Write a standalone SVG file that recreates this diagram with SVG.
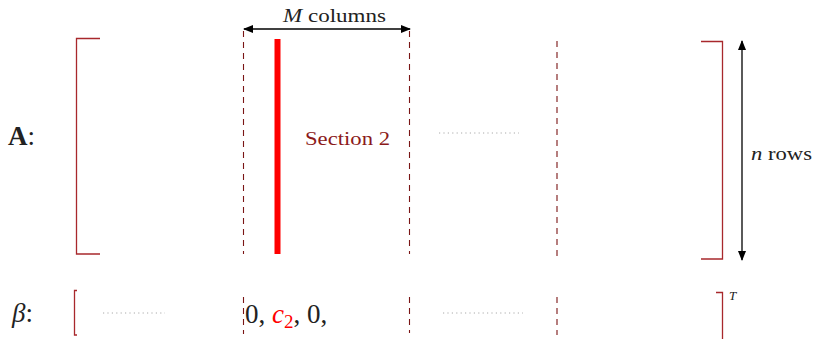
<svg xmlns="http://www.w3.org/2000/svg" width="814" height="339" viewBox="0 0 814 339">
<defs>
<marker id="ah" viewBox="0 0 10 10" refX="9" refY="5" markerWidth="10" markerHeight="10" markerUnits="userSpaceOnUse" orient="auto-start-reverse">
<path d="M0,1 L10,5 L0,9 Z" fill="#000"/>
</marker>
<style>
.br{fill:none;stroke:#a8282c;stroke-width:1.3}
.dash{fill:none;stroke:#7a1515;stroke-width:1.1;stroke-dasharray:6,5}
.dot{fill:none;stroke:#aaa;stroke-width:1;stroke-dasharray:1.2,3.2}
.arr{fill:none;stroke:#000;stroke-width:1.3}
.t{font-family:"Liberation Serif","DejaVu Serif",serif;fill:#222}
</style>
</defs>
<rect width="814" height="339" fill="#fff"/>
<g id="labels">
<text class="t" x="8" y="145" font-size="27" font-weight="bold">A<tspan font-weight="normal">:</tspan></text>
<text class="t" x="12" y="322" font-size="27"><tspan font-style="italic">β</tspan>:</text>
</g>
<g id="matrixA">
<path class="br" d="M100,38.5 H76.5 V254 H100"/>
<path class="br" d="M701,41.5 H722.5 V259 H701"/>
<line x1="277.5" y1="39" x2="277.5" y2="254" stroke="#ff0000" stroke-width="6"/>
<text class="t" x="305" y="145" font-size="19" textLength="85" lengthAdjust="spacingAndGlyphs" style="fill:#8b1a1a">Section 2</text>
<line class="dot" x1="439" y1="133" x2="519" y2="133"/>
</g>
<g id="vectorBeta">
<path class="br" d="M77,290.5 H74.5 V335 H77"/>
<line class="dot" x1="103" y1="313" x2="165" y2="313"/>
<text class="t" x="245" y="323" font-size="27">0, <tspan style="fill:#ff0000;font-style:italic">c</tspan><tspan style="fill:#ff0000" font-size="19" dy="5">2</tspan><tspan dy="-5">, 0,</tspan></text>
<line class="dot" x1="443" y1="313" x2="523" y2="313"/>
<path class="br" d="M716,292.5 H722.5 V339"/>
<text class="t" x="729" y="300" font-size="13" font-style="italic">T</text>
</g>
<g id="connectors">
<line class="dash" x1="243.5" y1="31" x2="243.5" y2="254"/>
<line class="dash" x1="409.5" y1="31" x2="409.5" y2="254"/>
<line class="dash" x1="557" y1="41" x2="557" y2="259"/>
<line class="dash" x1="243.5" y1="297" x2="243.5" y2="334"/>
<line class="dash" x1="409.5" y1="297" x2="409.5" y2="333"/>
<line class="dash" x1="557" y1="297" x2="557" y2="335"/>
<line class="arr" x1="244" y1="29" x2="410" y2="29" marker-start="url(#ah)" marker-end="url(#ah)"/>
<line class="arr" x1="742" y1="41" x2="742" y2="260" marker-start="url(#ah)" marker-end="url(#ah)"/>
<text class="t" x="283" y="22" font-size="18" textLength="103" lengthAdjust="spacingAndGlyphs"><tspan font-style="italic">M</tspan> columns</text>
<text class="t" x="751" y="160" font-size="18" textLength="61" lengthAdjust="spacingAndGlyphs"><tspan font-style="italic">n</tspan> rows</text>
</g>
</svg>
